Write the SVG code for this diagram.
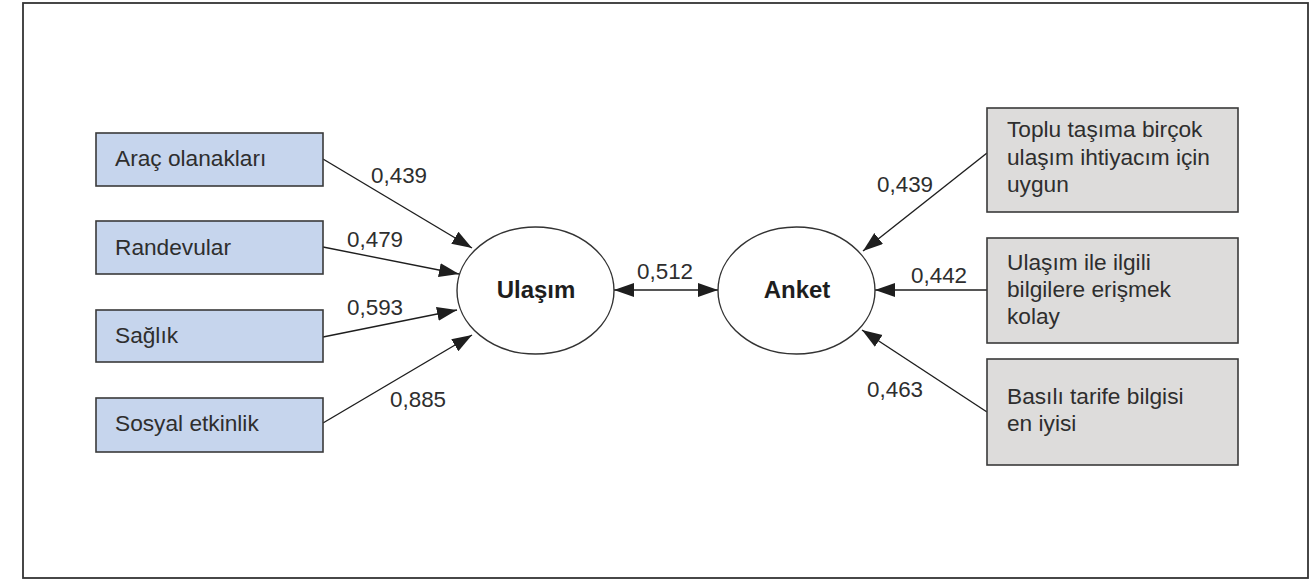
<svg xmlns="http://www.w3.org/2000/svg" width="1314" height="579" viewBox="0 0 1314 579">
<style>
.t{font-family:"Liberation Sans",Arial,sans-serif;font-size:22.7px;fill:#2e2e2e}
.n{font-family:"Liberation Sans",Arial,sans-serif;font-size:22.4px;fill:#2e2e2e}
.b{font-family:"Liberation Sans",Arial,sans-serif;font-size:24px;font-weight:bold;fill:#1e1e1e;text-anchor:middle}
.lb{fill:#c6d5ed;stroke:#3a3a3a;stroke-width:1.6}
.rb{fill:#dddcdb;stroke:#3a3a3a;stroke-width:1.6}
.el{fill:#fff;stroke:#333;stroke-width:1.4}
.c{stroke:#1e1e1e;stroke-width:1.4;fill:none}
</style>
<defs>
<marker id="ah" markerUnits="userSpaceOnUse" markerWidth="22" markerHeight="16" refX="20" refY="7" orient="auto">
<path d="M0,0 L20,7 L0,14 z" fill="#1e1e1e"/>
</marker>
<marker id="as" markerUnits="userSpaceOnUse" markerWidth="22" markerHeight="16" refX="0" refY="7" orient="auto">
<path d="M20,0 L0,7 L20,14 z" fill="#1e1e1e"/>
</marker>
</defs>
<rect x="23" y="3" width="1285" height="575" fill="#fff" stroke="#333" stroke-width="1.8"/>

<g id="connectors">
<line class="c" x1="323" y1="159" x2="472" y2="248" marker-end="url(#ah)"/>
<line class="c" x1="323" y1="247" x2="459" y2="274" marker-end="url(#ah)"/>
<line class="c" x1="323" y1="337" x2="457" y2="310" marker-end="url(#ah)"/>
<line class="c" x1="323" y1="423" x2="472" y2="335" marker-end="url(#ah)"/>
<line class="c" x1="614" y1="290" x2="718" y2="290" marker-start="url(#as)" marker-end="url(#ah)"/>
<line class="c" x1="987" y1="153" x2="863" y2="251" marker-end="url(#ah)"/>
<line class="c" x1="987" y1="290" x2="875" y2="290" marker-end="url(#ah)"/>
<line class="c" x1="987" y1="412" x2="862" y2="330" marker-end="url(#ah)"/>
<text class="n" x="371" y="183">0,439</text>
<text class="n" x="347" y="247">0,479</text>
<text class="n" x="347" y="315">0,593</text>
<text class="n" x="390" y="407">0,885</text>
<text class="n" x="637" y="279">0,512</text>
<text class="n" x="877" y="192">0,439</text>
<text class="n" x="911" y="283">0,442</text>
<text class="n" x="867" y="397">0,463</text>
</g>

<g id="arac"><rect class="lb" x="96" y="133" width="227" height="53"/><text class="t" x="115" y="166">Araç olanakları</text></g>
<g id="randevular"><rect class="lb" x="96" y="221" width="227" height="53"/><text class="t" x="115" y="255">Randevular</text></g>
<g id="saglik"><rect class="lb" x="96" y="310" width="227" height="52"/><text class="t" x="115" y="343">Sağlık</text></g>
<g id="sosyal"><rect class="lb" x="96" y="398" width="227" height="54"/><text class="t" x="115" y="431">Sosyal etkinlik</text></g>

<g id="ulasim"><ellipse class="el" cx="535.5" cy="290.5" rx="78.5" ry="63.5"/><text class="b" x="536" y="298">Ulaşım</text></g>
<g id="anket"><ellipse class="el" cx="796.5" cy="290.5" rx="78.5" ry="63.5"/><text class="b" x="797" y="298">Anket</text></g>

<g id="toplu"><rect class="rb" x="987" y="108" width="251" height="104"/>
<text class="t" x="1007" y="137">Toplu taşıma birçok</text>
<text class="t" x="1007" y="165">ulaşım ihtiyacım için</text>
<text class="t" x="1007" y="192">uygun</text></g>
<g id="bilgi"><rect class="rb" x="987" y="238" width="251" height="105"/>
<text class="t" x="1007" y="270">Ulaşım ile ilgili</text>
<text class="t" x="1007" y="297">bilgilere erişmek</text>
<text class="t" x="1007" y="324">kolay</text></g>
<g id="basili"><rect class="rb" x="987" y="359" width="251" height="106"/>
<text class="t" x="1007" y="404">Basılı tarife bilgisi</text>
<text class="t" x="1007" y="431">en iyisi</text></g>
</svg>
